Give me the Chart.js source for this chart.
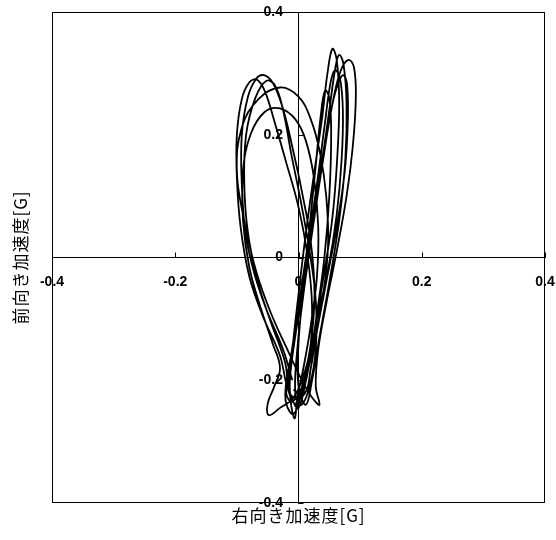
<!DOCTYPE html>
<html><head><meta charset="utf-8">
<script src="https://cdn.jsdelivr.net/npm/chart.js@4"></script>
<style>html,body{margin:0;padding:0;background:#fff}#wrap{width:556px;height:540px;position:relative}</style>
</head><body><div id="wrap"><canvas id="c"></canvas></div>
<script>
const xTicks = [-0.4, -0.2, 0, 0.2, 0.4];
const yTicks = [-0.4, -0.2, 0, 0.2, 0.4];
const xTitle = '右向き加速度[G]';
const yTitle = '前向き加速度[G]';

const loopL1 = [[-0.010,-0.200],[-0.025,-0.150],[-0.052,-0.085],[-0.072,-0.025],[-0.086,0.040],[-0.092,0.120],[-0.092,0.200],[-0.082,0.262],[-0.068,0.292],[-0.056,0.297],[-0.042,0.285],[-0.026,0.245],[-0.010,0.180],[0.006,0.105],[0.020,0.025],[0.026,-0.060],[0.020,-0.140],[0.008,-0.200],[-0.004,-0.238]];
const loopR1 = [[-0.016,-0.215],[-0.010,-0.150],[0.000,-0.060],[0.012,0.040],[0.025,0.135],[0.038,0.225],[0.047,0.300],[0.055,0.340],[0.062,0.322],[0.066,0.255],[0.063,0.165],[0.055,0.065],[0.040,-0.035],[0.026,-0.120],[0.014,-0.190],[0.000,-0.245],[-0.012,-0.228]];
const loopL2 = [[-0.020,-0.205],[-0.030,-0.160],[-0.058,-0.095],[-0.080,-0.030],[-0.094,0.050],[-0.100,0.130],[-0.100,0.200],[-0.092,0.258],[-0.080,0.285],[-0.068,0.290],[-0.055,0.272],[-0.040,0.225],[-0.020,0.155],[0.000,0.082],[0.015,0.000],[0.022,-0.080],[0.018,-0.160],[0.005,-0.220],[-0.008,-0.255],[-0.020,-0.238]];
const loopR2 = [[-0.020,-0.205],[-0.006,-0.130],[0.010,-0.040],[0.025,0.060],[0.040,0.160],[0.055,0.250],[0.068,0.303],[0.081,0.322],[0.090,0.310],[0.093,0.260],[0.088,0.180],[0.078,0.100],[0.062,0.010],[0.046,-0.070],[0.032,-0.150],[0.028,-0.210],[0.034,-0.240],[0.022,-0.228]];
const loopL3 = [[0.008,-0.205],[-0.018,-0.150],[-0.045,-0.090],[-0.068,-0.025],[-0.088,0.060],[-0.100,0.140],[-0.092,0.212],[-0.065,0.258],[-0.030,0.277],[0.000,0.262],[0.020,0.225],[0.035,0.170],[0.045,0.100],[0.048,0.020],[0.040,-0.060],[0.025,-0.140],[0.010,-0.200],[-0.010,-0.235]];
const loopR3 = [[-0.020,-0.220],[-0.012,-0.160],[0.000,-0.080],[0.015,0.020],[0.030,0.120],[0.043,0.220],[0.052,0.285],[0.059,0.305],[0.067,0.294],[0.072,0.240],[0.070,0.160],[0.062,0.070],[0.048,-0.020],[0.030,-0.100],[0.012,-0.180],[-0.008,-0.228],[-0.030,-0.245],[-0.048,-0.257],[-0.050,-0.238],[-0.040,-0.212]];
const loopL4 = [[-0.030,-0.180],[-0.042,-0.140],[-0.062,-0.080],[-0.080,-0.015],[-0.090,0.060],[-0.090,0.140],[-0.078,0.200],[-0.055,0.237],[-0.030,0.243],[-0.005,0.225],[0.012,0.190],[0.025,0.130],[0.032,0.050],[0.030,-0.030],[0.020,-0.110],[0.008,-0.180],[-0.002,-0.228],[-0.006,-0.262],[-0.012,-0.240]];
const loopR4 = [[-0.014,-0.200],[-0.004,-0.120],[0.010,-0.030],[0.025,0.070],[0.040,0.170],[0.055,0.250],[0.066,0.288],[0.073,0.297],[0.079,0.280],[0.080,0.220],[0.075,0.140],[0.062,0.050],[0.045,-0.040],[0.030,-0.120],[0.020,-0.180],[0.010,-0.222]];
const loopL5 = [[-0.012,-0.225],[-0.022,-0.170],[-0.045,-0.105],[-0.066,-0.040],[-0.082,0.040],[-0.088,0.120],[-0.085,0.200],[-0.070,0.260],[-0.052,0.288],[-0.038,0.280],[-0.025,0.240],[-0.012,0.170],[0.004,0.090],[0.018,0.010],[0.028,-0.070],[0.028,-0.150],[0.018,-0.210],[0.005,-0.240]];
const loopR6 = [[-0.005,-0.225],[-0.002,-0.150],[0.008,-0.060],[0.022,0.040],[0.036,0.140],[0.050,0.240],[0.060,0.310],[0.066,0.330],[0.073,0.315],[0.078,0.250],[0.076,0.160],[0.066,0.060],[0.050,-0.040],[0.034,-0.130],[0.022,-0.200],[0.012,-0.240]];
const loopR5 = [[0.000,-0.210],[0.000,-0.140],[0.008,-0.050],[0.018,0.050],[0.028,0.150],[0.036,0.230],[0.043,0.272],[0.050,0.260],[0.053,0.200],[0.050,0.100],[0.042,0.000],[0.030,-0.090],[0.018,-0.170],[0.004,-0.225],[-0.008,-0.215]];

const loops = [loopL1, loopR1, loopL2, loopR2, loopL3, loopR3, loopL4, loopR4, loopL5, loopR6, loopR5];
const path = loops.flat().map(([x, y]) => ({x, y}));

const tickFont = {family: '"Liberation Sans", Arial, sans-serif', size: 14, weight: 'bold'};
const titleFont = {family: '"Noto Sans CJK JP", sans-serif', size: 17, lineHeight: 1.2};

const framePlugin = {
  id: 'frame',
  beforeDatasetsDraw(chart) {
    const {ctx, chartArea: a, scales} = chart;
    ctx.save();
    ctx.strokeStyle = '#000';
    ctx.lineWidth = 1;
    ctx.strokeRect(a.left + 0.5, a.top + 0.5, a.width - 1, a.height - 1);
    const x0 = scales.x.getPixelForValue(0), y0 = scales.y.getPixelForValue(0);
    ctx.beginPath();
    xTicks.forEach(v => { const p = Math.round(scales.x.getPixelForValue(v)) + 0.5; ctx.moveTo(p, y0); ctx.lineTo(p, y0 - 5); });
    yTicks.forEach(v => { const p = Math.round(scales.y.getPixelForValue(v)) + 0.5; ctx.moveTo(x0, p); ctx.lineTo(x0 + 5, p); });
    ctx.stroke();
    ctx.restore();
  },
  afterDatasetsDraw(chart) { chart.ctx.letterSpacing = '1px'; },
  afterDraw(chart) { chart.ctx.letterSpacing = '0px'; }
};

new Chart(document.getElementById('c'), {
  type: 'scatter',
  data: {
    datasets: [{
      data: path,
      xAxisID: 'x', yAxisID: 'y',
      showLine: true,
      borderColor: '#000',
      borderWidth: 1.8,
      pointRadius: 0,
      tension: 0.4,
      fill: false
    }]
  },
  options: {
    responsive: true,
    maintainAspectRatio: false,
    animation: false,
    layout: {padding: {left: 0, right: 11, top: 12, bottom: 0}},
    plugins: {legend: {display: false}, tooltip: {enabled: false}},
    scales: {
      x: {
        type: 'linear', position: {y: 0}, min: -0.4, max: 0.4,
        afterBuildTicks: s => { s.ticks = xTicks.map(v => ({value: v})); },
        grid: {display: false, drawTicks: true, tickLength: 15},
        border: {display: true, color: '#000', width: 1},
        ticks: {color: '#000', font: tickFont, padding: 1, maxRotation: 0, autoSkip: false, callback: v => String(v)}
      },
      y: {
        type: 'linear', position: {x: 0}, min: -0.4, max: 0.4,
        afterBuildTicks: s => { s.ticks = yTicks.map(v => ({value: v})); },
        grid: {display: false, drawTicks: false},
        border: {display: true, color: '#000', width: 1},
        ticks: {color: '#000', font: tickFont, padding: 1, autoSkip: false, callback: v => String(v) + '    '}
      },
      xt: {
        type: 'linear', position: 'bottom', display: true,
        grid: {display: false, drawTicks: false, z: 1},
        border: {display: false},
        ticks: {display: false},
        title: {display: true, text: xTitle, color: '#000', font: titleFont, padding: {top: 2.8, bottom: 13.8}}
      },
      yt: {
        type: 'linear', position: 'left', display: true,
        grid: {display: false, drawTicks: false, z: 1},
        border: {display: false},
        ticks: {display: false},
        title: {display: true, text: yTitle, color: '#000', font: titleFont, padding: {top: 10, bottom: 21.6}}
      }
    }
  },
  plugins: [framePlugin]
});
</script>
</body></html>
